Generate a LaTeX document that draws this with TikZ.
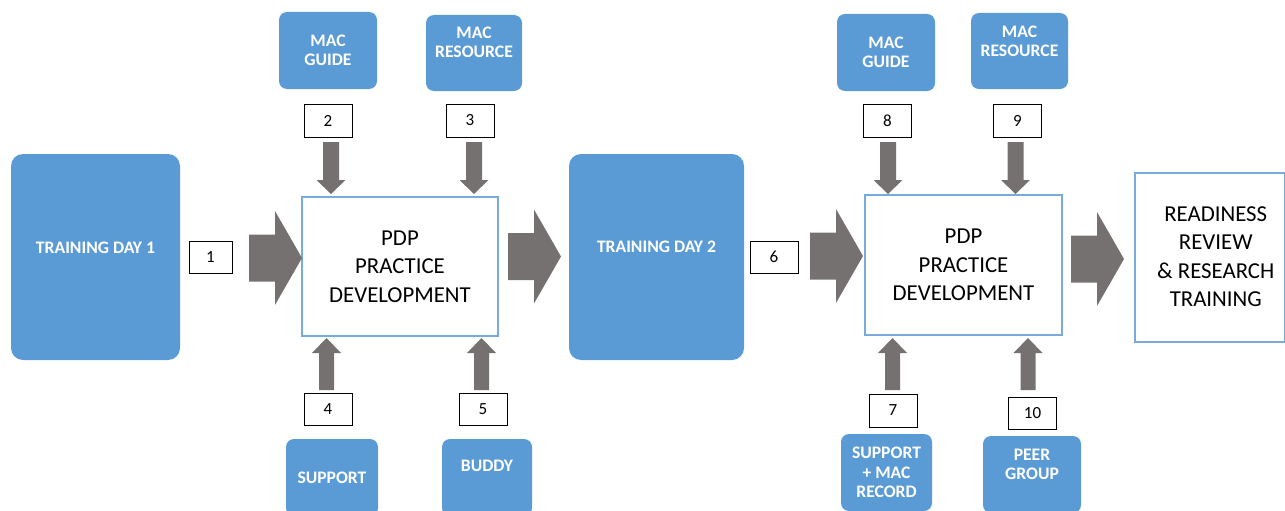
\documentclass[tikz,border=0pt]{standalone}
\usepackage{fontspec}
\setmainfont{Carlito}
\definecolor{boxblue}{RGB}{91,155,213}
\definecolor{arrgray}{RGB}{118,113,113}
\definecolor{edgeblue}{RGB}{120,170,220}
\begin{document}
\begin{tikzpicture}[x=1pt,y=-1pt,
  bluebox/.style={fill=boxblue, rounded corners=8pt, inner sep=0pt, text=white,
    font=\fontsize{17.6}{19.5}\selectfont\bfseries, align=center},
  bluetext/.style={text=white, font=\fontsize{17.6}{19.5}\selectfont\bfseries, align=center, inner sep=0pt},
  numbox/.style={draw=black, line width=1pt, fill=white, minimum width=48pt, minimum height=33pt,
    inner sep=0pt, font=\fontsize{17}{19}\selectfont},
  pdpbox/.style={draw=edgeblue, line width=1.1pt, fill=white, inner sep=0pt, align=center,
    font=\fontsize{22.8}{28.5}\selectfont},
  rarr/.pic={\fill[arrgray] (0,-23.5) -- (26,-23.5) -- (26,-47) -- (53,0) -- (26,47) -- (26,23.5) -- (0,23.5) -- cycle;},
  darr/.pic={\fill[arrgray] (0,0) -- (-14.5,-14) -- (-8,-14) -- (-8,-52) -- (8,-52) -- (8,-14) -- (14.5,-14) -- cycle;},
  uarr/.pic={\fill[arrgray] (0,0) -- (-14.5,15) -- (-7.5,15) -- (-7.5,52) -- (7.5,52) -- (7.5,15) -- (14.5,15) -- cycle;}
]
\useasboundingbox (0,0) rectangle (1285,511);
\clip (0,0) rectangle (1285,511);

% training days
\node[bluebox, rounded corners=12pt, minimum width=169pt, minimum height=206pt,
  label={[bluetext,yshift=9pt]center:TRAINING DAY 1}] (td1) at (95.5,257) {};
\node[bluebox, rounded corners=12pt, minimum width=175pt, minimum height=206pt,
  label={[bluetext,yshift=10pt]center:TRAINING DAY 2}] (td2) at (656.5,257) {};

% PDP boxes
\node[pdpbox, minimum width=196pt, minimum height=139pt] (pdp1) at (400,266.5) {PDP\\PRACTICE\\DEVELOPMENT};
\node[pdpbox, minimum width=197pt, minimum height=140pt] (pdp2) at (963.5,265) {PDP\\PRACTICE\\DEVELOPMENT};
\node[pdpbox, minimum width=149.5pt, minimum height=169pt,
  label={[align=center, inner sep=0pt, font=\fontsize{22.8}{28.5}\selectfont, xshift=6pt, yshift=1pt]center:READINESS\\REVIEW\\\& RESEARCH\\TRAINING}] (rr) at (1209.75,257.5) {};

% input boxes, first PDP
\node[bluebox, minimum width=98pt, minimum height=77pt] (mg1) at (328,50.5) {MAC\\GUIDE};
\node[bluebox, minimum width=96pt, minimum height=76pt,
  label={[bluetext,yshift=10.5pt]center:MAC\\RESOURCE}] (mr1) at (474,53) {};
\node[bluebox, minimum width=92pt, minimum height=77pt] (sup1) at (332,477.5) {SUPPORT};
\node[bluebox, minimum width=90pt, minimum height=77pt,
  label={[bluetext,yshift=11.5pt]center:BUDDY}] (bud) at (487,477.5) {};

% input boxes, second PDP
\node[bluebox, minimum width=98pt, minimum height=77pt] (mg2) at (886,52.5) {MAC\\GUIDE};
\node[bluebox, minimum width=97pt, minimum height=76pt,
  label={[bluetext,yshift=9.5pt]center:MAC\\RESOURCE}] (mr2) at (1019.5,51) {};
\node[bluebox, minimum width=91pt, minimum height=77pt] (sup2) at (886.5,472.5) {SUPPORT\\+ MAC\\RECORD};
\node[bluebox, minimum width=98pt, minimum height=77pt,
  label={[bluetext,yshift=10pt]center:PEER\\GROUP}] (peer) at (1032,474.5) {};

% numbered boxes
\node[numbox, minimum width=43pt, minimum height=32pt] (n1) at (210.5,257) {1};
\node[numbox] (n2) at (328,120.5) {2};
\node[numbox] (n3) at (470,120.5) {3};
\node[numbox, minimum height=32pt] (n4) at (328,409) {4};
\node[numbox, minimum height=32pt] (n5) at (483,409) {5};
\node[numbox, minimum height=32pt] (n6) at (774,257) {6};
\node[numbox] (n7) at (893,410.5) {7};
\node[numbox] (n8) at (887.5,120.5) {8};
\node[numbox] (n9) at (1017.5,120.5) {9};
\node[numbox, minimum height=32pt] (n10) at (1032.5,413) {10};

% block arrows
\pic at (249,258) {rarr};
\pic at (508,256.5) {rarr};
\pic at (810,256) {rarr};
\pic at (1071,259) {rarr};

\pic at (331,194) {darr};
\pic at (474,194) {darr};
\pic at (888,194) {darr};
\pic at (1015.5,194) {darr};

\pic at (326.5,338) {uarr};
\pic at (481.5,338) {uarr};
\pic at (892.5,338) {uarr};
\pic at (1028,338) {uarr};
\end{tikzpicture}
\end{document}
